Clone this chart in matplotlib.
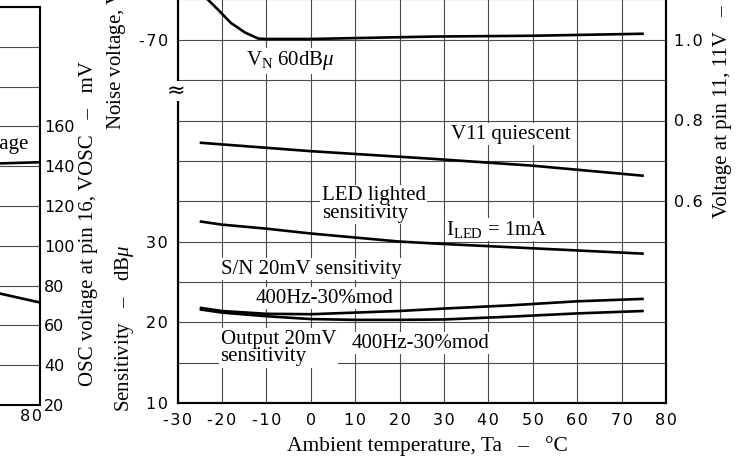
import numpy as np
import matplotlib
matplotlib.use("Agg")
from matplotlib import pyplot as plt

plt.rcParams["mathtext.fontset"] = "custom"
plt.rcParams["mathtext.rm"] = "Liberation Serif"
plt.rcParams["mathtext.it"] = "Liberation Serif:italic"

serif = "Liberation Serif"
tick_font = "DejaVu Sans"

# main chart: sensitivity (dBu) and noise voltage (dBV, broken axis)
temp_noise = [-25, -23.2, -20.9, -18.0, -14.8, -11.8, -10, 0, 27.5, 50, 75]
noise_vn = [-63.8, -65.0, -66.25, -67.9, -69.1, -69.85, -69.9, -69.9, -69.6, -69.5, -69.25]

temp_v11 = [-25, 0, 27.5, 50, 75]
v11_quiescent = [0.745, 0.724, 0.705, 0.688, 0.663]

temp_sens = [-25, -20, -10, 0, 10, 20, 30, 45, 60, 75]
led_sens = [32.5, 32.1, 31.6, 31.0, 30.5, 30.0, 29.7, 29.3, 28.9, 28.5]
sn_sens = [21.8, 21.4, 21.05, 21.0, 21.2, 21.4, 21.7, 22.1, 22.6, 22.9]
out_sens = [21.6, 21.2, 20.75, 20.4, 20.3, 20.3, 20.35, 20.7, 21.1, 21.4]

noise_offset = 125  # -70 dBV drawn at the 55 dB grid line
sens_ticks = [10, 20, 30]
noise_ticks = [-70]
v11_ticks = [0.6, 0.8, 1.0]
x_ticks = [-30, -20, -10, 0, 10, 20, 30, 40, 50, 60, 70, 80]

# left (cropped) chart: OSC voltage at pin 16
temp_osc = [50, 65, 80]
osc_voltage = [141, 141, 142]
temp_other = [70, 80]
other_curve = [76.5, 71.5]
osc_ticks = [20, 40, 60, 80, 100, 120, 140, 160]

W, H = 739, 462
fig = plt.figure(figsize=(W / 100, H / 100), dpi=100)


def fx(px):
    return px / W


def fy(py):
    return 1 - py / H


def spaced(s):
    # the scanned tick labels are letter-spaced
    return "\u200a".join(s)


grid_kw = dict(color="#4a4a4a", lw=0.8)
line_kw = dict(color="black", lw=1.9, solid_capstyle="butt")
tick_kw = dict(fontfamily=tick_font, fontsize=11.5)

# ---- left partial chart
ax0 = fig.add_axes([fx(-447.7), fy(405), fx(487.6), (405 - 7) / H])
ax0.set_xlim(-30, 80)
ax0.set_ylim(20, 220)
osc_grid = np.arange(20, 221, 20)
ax0.set_yticks(osc_grid)
ax0.set_xticks([78])
ax0.set_xticklabels([spaced("80")], **tick_kw)
ax0.grid(True, axis="y", **grid_kw)
ax0.tick_params(length=0, labelleft=False, labelright=True, pad=3)
ax0.yaxis.set_ticks_position("right")
ax0.set_yticklabels([str(t) if t in osc_ticks else "" for t in osc_grid], **tick_kw)
for s in ax0.spines.values():
    s.set_linewidth(1.5)
ax0.plot(temp_osc, osc_voltage, **line_kw)
ax0.plot(temp_other, other_curve, **line_kw)
ax0.text(77.3, 151, "OSC voltage", ha="right", va="center", fontfamily=serif,
         fontsize=15, bbox=dict(fc="white", ec="none", pad=1))

# ---- main chart
ax = fig.add_axes([fx(177.5), fy(403), fx(666 - 177.5), (403 + 49) / H])
ax.set_xlim(-30, 80)
ax.set_ylim(10, 66)
ax.set_xticks(x_ticks)
ax.set_xticklabels([spaced(str(t)) for t in x_ticks], **tick_kw)
ax.set_yticks(np.arange(10, 66, 5))
ylabels = []
for t in np.arange(10, 66, 5):
    if t in sens_ticks:
        ylabels.append(spaced(str(t)))
    elif t - noise_offset in noise_ticks:
        ylabels.append(spaced(str(t - noise_offset)))
    else:
        ylabels.append("")
ax.set_yticklabels(ylabels, **tick_kw)
ax.tick_params(length=0, pad=7)
ax.grid(True, **grid_kw)
for s in ax.spines.values():
    s.set_linewidth(1.5)

ax.plot(temp_noise, np.array(noise_vn) + noise_offset, **line_kw)
ax.plot(temp_sens, led_sens, **line_kw)
ax.plot(temp_sens, sn_sens, **line_kw)
ax.plot(temp_sens, out_sens, **line_kw)

axr = ax.twinx()
axr.set_ylim(0.6 + (10 - 35) * 0.02, 0.6 + (66 - 35) * 0.02)
axr.set_yticks(v11_ticks)
axr.set_yticklabels([spaced(f"{t:.1f}") for t in v11_ticks], **tick_kw)
axr.tick_params(length=0, pad=6)
axr.plot(temp_v11, v11_quiescent, **line_kw)
for s in axr.spines.values():
    s.set_linewidth(1.5)

box = dict(fc="white", ec="none", pad=1)
tkw = dict(fontfamily=serif, fontsize=15, bbox=box)
ax.text(-14.5, 52.4, r"V$_{\rm N}$ 60dB$\mu$", ha="left", va="center", **tkw)
ax.text(31.5, 43.3, "V11 quiescent", ha="left", va="center", **tkw)
ax.text(2.5, 34.6, "LED lighted\nsensitivity", ha="left", va="center",
        linespacing=0.9, **tkw)
ax.text(30.5, 31.5, r"I$_{\rm LED}$ = 1mA", ha="left", va="center", **tkw)
ax.text(-20.3, 26.6, "S/N 20mV sensitivity", ha="left", va="center", **tkw)
ax.text(-12.3, 23.0, "400Hz-30%mod", ha="left", va="center", **tkw)
ax.text(-20.3, 16.8, "Output 20mV\nsensitivity", ha="left", va="center",
        linespacing=0.9, **tkw)
ax.text(9.3, 17.4, "400Hz-30%mod", ha="left", va="center", **tkw)

# axis break mark on the left spine
fig.text(fx(176), fy(91), "≈", ha="center", va="center", fontsize=16,
         fontfamily="DejaVu Sans", bbox=dict(fc="white", ec="none", pad=0))

# axis titles
fig.text(fx(427), fy(446), "Ambient temperature, Ta   –   °C", ha="center",
         va="center", fontfamily=serif, fontsize=15.5)
fig.text(fx(124), fy(412), "Sensitivity   –   dB$\\mu$", rotation=90, ha="center",
         va="bottom", fontfamily=serif, fontsize=15)
fig.text(fx(117), fy(130), "Noise voltage, V$_{\\rm N}$  –  dBV", rotation=90,
         ha="center", va="bottom", fontfamily=serif, fontsize=15)
fig.text(fx(89), fy(386), "OSC voltage at pin 16, VOSC   –   mV", rotation=90,
         ha="center", va="bottom", fontfamily=serif, fontsize=15)
fig.text(fx(723), fy(218), "Voltage at pin 11, 11V   –   V", rotation=90,
         ha="center", va="bottom", fontfamily=serif, fontsize=15)

fig.savefig("out.png", dpi=100)
